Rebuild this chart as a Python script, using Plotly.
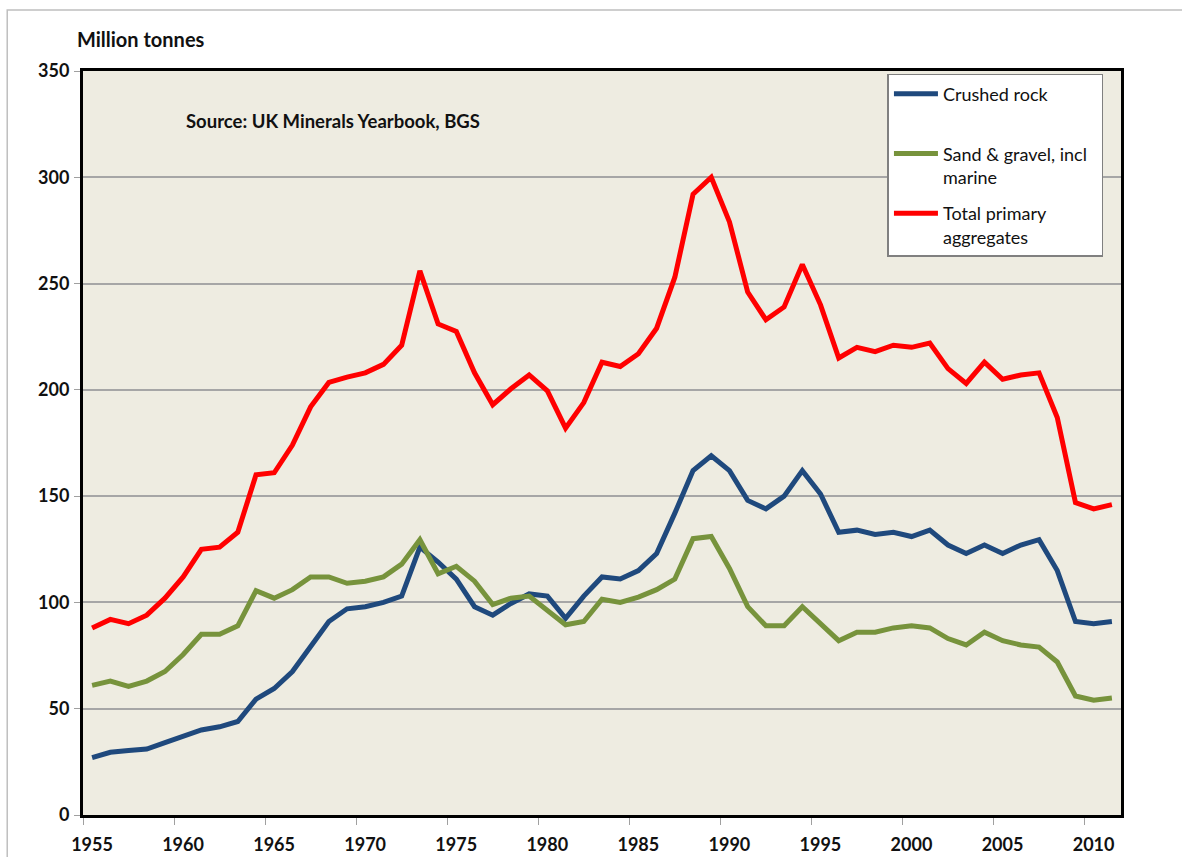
import plotly.graph_objects as go

# UK primary aggregates production, million tonnes
years = [1955, 1956, 1957, 1958, 1959, 1960, 1961, 1962, 1963, 1964,
         1965, 1966, 1967, 1968, 1969, 1970, 1971, 1972, 1973, 1974,
         1975, 1976, 1977, 1978, 1979, 1980, 1981, 1982, 1983, 1984,
         1985, 1986, 1987, 1988, 1989, 1990, 1991, 1992, 1993, 1994,
         1995, 1996, 1997, 1998, 1999, 2000, 2001, 2002, 2003, 2004,
         2005, 2006, 2007, 2008, 2009, 2010, 2011]

crushed_rock = [27, 29.5, 30.3, 31, 34, 37, 40, 41.5, 44, 54.5,
                59.5, 67.5, 79, 91, 97, 98, 100, 103, 126, 119,
                111, 98, 94, 99.5, 104, 103, 92.5, 103, 112, 111,
                115, 123, 142, 162, 169, 162, 148, 144, 150, 162,
                151, 133, 134, 132, 133, 131, 134, 127, 123, 127,
                123, 127, 129.5, 115, 91, 90, 91]

sand_gravel = [61, 63, 60.5, 63, 67.5, 75.5, 85, 85, 89, 105.5,
               102, 106, 112, 112, 109, 110, 112, 118, 129.5, 113.5,
               117, 110, 99, 102, 103, 96, 89.5, 91, 101.5, 100,
               102.5, 106, 111, 130, 131, 116, 98, 89, 89, 98,
               90, 82, 86, 86, 88, 89, 88, 83, 80, 86,
               82, 80, 79, 72, 56, 54, 55]

total_primary = [88, 92, 90, 94, 102, 112, 125, 126, 133, 160,
                 161, 174, 192, 203.5, 206, 208, 212, 221, 256, 231,
                 227.5, 208, 193, 200.5, 207, 199.5, 182, 194, 213, 211,
                 217, 229, 253, 292, 300, 279, 246, 233, 239, 259,
                 240, 215, 220, 218, 221, 220, 222, 210, 203, 213,
                 205, 207, 208, 187, 147, 144, 146]

x_labels = ["1955", "1960", "1965", "1970", "1975", "1980",
            "1985", "1990", "1995", "2000", "2005", "2010"]
y_ticks = [0, 50, 100, 150, 200, 250, 300, 350]

FONT = "Lato"
INK = "#111111"
NB = "\u00a0"

fig = go.Figure()

fig.add_trace(go.Scatter(x=years, y=crushed_rock, mode="lines",
                         name="Crushed rock<br>" + NB, legendgroup="a",
                         line=dict(color="#1F497D", width=5)))
fig.add_trace(go.Scatter(x=years, y=sand_gravel, mode="lines",
                         name="Sand & gravel, incl" + NB * 2 + "<br>marine",
                         legendgroup="b",
                         line=dict(color="#77933C", width=5)))
fig.add_trace(go.Scatter(x=years, y=total_primary, mode="lines",
                         name="Total primary<br>aggregates", legendgroup="c",
                         line=dict(color="#FF0000", width=5)))

# category-style axis: ticks sit on the boundaries, labels in the middle
fig.update_xaxes(range=[years[0] - 0.5, years[-1] + 0.5],
                 tickvals=[int(t) - 0.5 for t in x_labels], ticktext=x_labels,
                 ticklabelshift=9, ticks="outside", ticklen=7,
                 tickcolor="#A0A0A0", ticklabelstandoff=4,
                 showgrid=False, zeroline=False, automargin=False,
                 showline=True, linecolor="black", linewidth=3, mirror=True,
                 tickfont=dict(family=FONT, size=18, color=INK, weight="bold"))

fig.update_yaxes(range=[0, 350], tickvals=y_ticks,
                 ticks="outside", ticklen=6, tickcolor="#A0A0A0",
                 ticklabelstandoff=1, automargin=False,
                 showgrid=True, gridcolor="#A6A6A6", gridwidth=1.5,
                 zeroline=False,
                 showline=True, linecolor="black", linewidth=3, mirror=True,
                 tickfont=dict(family=FONT, size=18, color=INK, weight="bold"))

fig.add_annotation(text="<b>Million tonnes</b>", xref="paper", yref="paper",
                   x=-0.008, y=1.043, xanchor="left", yanchor="middle",
                   showarrow=False, font=dict(family=FONT, size=20, color=INK))
fig.add_annotation(text="<b>Source: UK Minerals Yearbook, BGS</b>",
                   xref="paper", yref="paper", x=0.0975, y=0.933,
                   xanchor="left", yanchor="middle", showarrow=False,
                   font=dict(family=FONT, size=18.5, color=INK))

# thin outer chart frame
fig.add_shape(type="rect", xref="paper", yref="paper",
              x0=-0.073, y0=-0.2, x1=1.2, y1=1.082,
              line=dict(color="#BFBFBF", width=1.5), layer="below")

fig.update_layout(
    width=1182, height=857,
    margin=dict(l=83, r=61, t=71, b=42),
    paper_bgcolor="white", plot_bgcolor="#EEECE1",
    font=dict(family=FONT, size=18, color=INK),
    showlegend=True,
    legend=dict(x=0.775, y=0.996, xanchor="left", yanchor="top",
                bgcolor="white", bordercolor="#808080", borderwidth=1.5,
                valign="top", tracegroupgap=10, traceorder="grouped",
                itemwidth=44,
                font=dict(family=FONT, size=18, color=INK)),
)

# drop the default page margin so the chart sits at the window's corner
fig.write_html("out.html", config={"displayModeBar": False},
               post_script="document.body.style.margin='0';"
                           "document.body.style.overflow='hidden';")
